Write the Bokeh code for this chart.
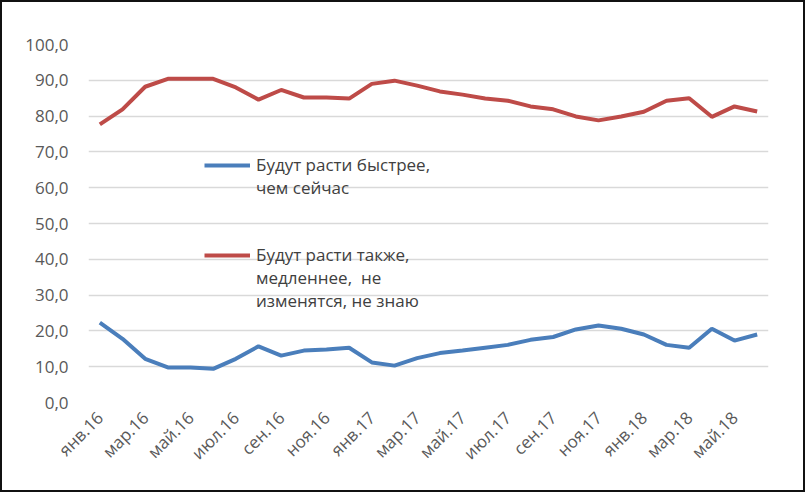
import math
from bokeh.plotting import figure
from bokeh.models import ColumnDataSource, Range1d, FixedTicker, Legend, LegendItem
from bokeh.embed import file_html
from bokeh.resources import INLINE

months = ["янв.16", "фев.16", "мар.16", "апр.16", "май.16", "июн.16", "июл.16", "авг.16", "сен.16", "окт.16",
          "ноя.16", "дек.16", "янв.17", "фев.17", "мар.17", "апр.17", "май.17", "июн.17", "июл.17", "авг.17",
          "сен.17", "окт.17", "ноя.17", "дек.17", "янв.18", "фев.18", "мар.18", "апр.18", "май.18", "июн.18"]
faster = [22.3, 17.8, 12.2, 9.8, 9.8, 9.4, 12.2, 15.7, 13.1, 14.5,
          14.8, 15.3, 11.2, 10.3, 12.4, 13.8, 14.5, 15.3, 16.1, 17.5,
          18.3, 20.4, 21.5, 20.6, 19.0, 16.1, 15.3, 20.6, 17.3, 19.0]
other = [77.7, 81.9, 88.2, 90.4, 90.4, 90.4, 88.0, 84.6, 87.3, 85.2,
         85.2, 84.9, 89.0, 89.9, 88.5, 86.9, 86.0, 84.9, 84.3, 82.7,
         81.9, 79.9, 78.8, 79.9, 81.2, 84.3, 85.0, 79.8, 82.7, 81.3]
y_ticks = [0, 10, 20, 30, 40, 50, 60, 70, 80, 90, 100]
label_faster = ["Будут расти быстрее,", "чем сейчас"]
label_other = ["Будут расти также,", "медленнее,  не", "изменятся, не знаю"]

idx = list(range(len(months)))
src = ColumnDataSource(dict(x=idx, faster=faster, other=other))

p = figure(width=805, height=492, output_backend="svg", toolbar_location=None,
           x_range=Range1d(-0.5, len(months) - 0.5), y_range=Range1d(0, 100),
           min_border_left=86, min_border_right=39, min_border_top=42, min_border_bottom=92)
p.styles = {"border": "2px solid #111", "box-sizing": "border-box"}
p.outline_line_color = None
p.background_fill_color = "white"
p.border_fill_color = "white"

r1 = p.line("x", "faster", source=src, line_color="#4a7ebb", line_width=4)
r2 = p.line("x", "other", source=src, line_color="#be4b48", line_width=4)
blank = p.line([], [], line_alpha=0)

font = "Open Sans"
p.yaxis.ticker = FixedTicker(ticks=y_ticks)
p.yaxis.major_label_overrides = {t: f"{t:.1f}".replace(".", ",") for t in y_ticks}
p.xaxis.ticker = FixedTicker(ticks=idx[::2])
p.xaxis.major_label_overrides = {i: months[i] for i in idx}
p.xaxis.major_label_orientation = math.pi / 4
for ax in (p.xaxis, p.yaxis):
    ax.axis_line_color = None
    ax.major_tick_line_color = None
    ax.minor_tick_line_color = None
    ax.major_label_text_font = font
    ax.major_label_text_font_size = "17px"
    ax.major_label_text_color = "#595959"
p.yaxis.major_label_standoff = 14
p.xaxis.major_label_standoff = 6

p.xgrid.grid_line_color = None
p.ygrid.grid_line_color = "#d9d9d9"
p.ygrid.grid_line_width = 1.5

items = [LegendItem(label=label_faster[0], renderers=[r1])]
items += [LegendItem(label=t, renderers=[blank]) for t in label_faster[1:]]
items += [LegendItem(label=" ", renderers=[blank]) for _ in range(2)]
items += [LegendItem(label=label_other[0], renderers=[r2])]
items += [LegendItem(label=t, renderers=[blank]) for t in label_other[1:]]

legend = Legend(items=items, location=(116, 90), orientation="vertical")
legend.background_fill_alpha = 0
legend.border_line_color = None
legend.padding = 0
legend.label_text_font = font
legend.label_text_font_size = "17px"
legend.label_text_color = "#404040"
legend.label_height = 22
legend.glyph_height = 22
legend.glyph_width = 46
legend.spacing = 0
legend.label_standoff = 6
p.add_layout(legend)

open("out.html", "w").write(file_html(p, INLINE))
